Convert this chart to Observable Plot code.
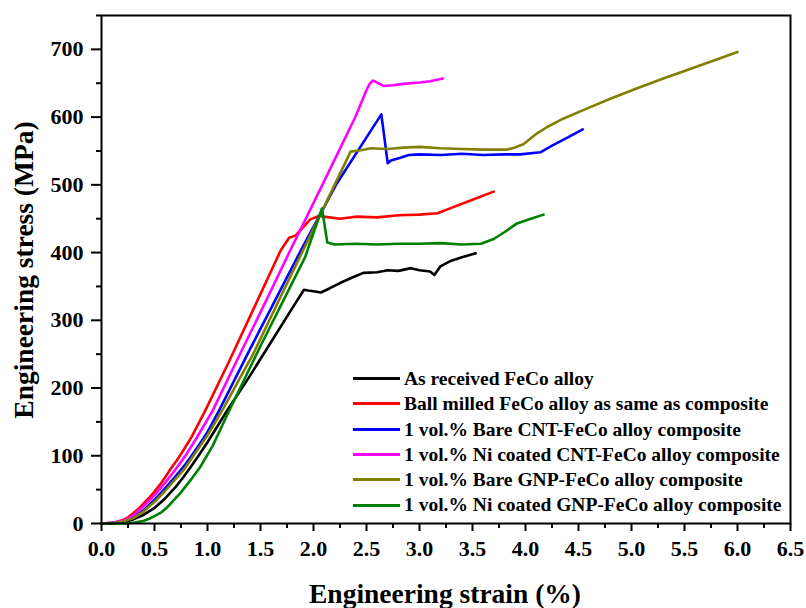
<!DOCTYPE html>
<html>
<head>
<meta charset="utf-8">
<script src="https://cdn.jsdelivr.net/npm/d3@7"></script>
<script src="https://cdn.jsdelivr.net/npm/@observablehq/plot@0.6"></script>
<style>
  html, body { margin: 0; padding: 0; background: #fff; }
  #wrap { position: relative; width: 806px; height: 608px; overflow: hidden; font-family: "Liberation Serif", "Times New Roman", serif; font-weight: bold; color: #000; }
  .title { position: absolute; white-space: nowrap; font-size: 27.5px; font-weight: bold; }
  #legend { position: absolute; left: 353px; top: 366px; font-size: 19.5px; line-height: 25.3px; }
  .row { display: flex; align-items: center; white-space: nowrap; }
  .swatch { width: 47px; height: 0; border-top: 3px solid; margin-right: 4px; }
</style>
</head>
<body>
<div id="wrap"></div>
<script>
// ---- Series labels and colours ----
const seriesNames = [
  "As received FeCo alloy",
  "Ball milled FeCo alloy as same as composite",
  "1 vol.% Bare CNT-FeCo alloy composite",
  "1 vol.% Ni coated CNT-FeCo alloy composite",
  "1 vol.% Bare GNP-FeCo alloy composite",
  "1 vol.% Ni coated GNP-FeCo alloy composite"
];
const seriesColors = ["#000000", "#ff0000", "#0000ff", "#ff00ff", "#808000", "#008000"];

// ---- Data: [strain (%), stress (MPa)] ----
const asReceived = [[0,0],[0.1,0.5],[0.2,2],[0.3,6],[0.4,13],[0.5,23],[0.6,37],[0.7,54],[0.77,68],[0.84,83],[0.92,101],[1.0,120],[1.19,168],[1.4,218],[1.6,268],[1.8,318],[1.91,345],[1.95,344],[2.0,343],[2.07,341],[2.15,347],[2.25,355],[2.35,362],[2.47,370],[2.6,371],[2.7,374],[2.8,373],[2.92,377],[3.0,374],[3.1,372],[3.14,367],[3.2,380],[3.3,388],[3.4,393],[3.53,399]];
const ballMilled = [[0,0],[0.1,1],[0.15,2.5],[0.2,5],[0.25,9],[0.3,15],[0.35,22],[0.4,30],[0.45,38],[0.5,47],[0.55,57],[0.6,68],[0.65,80],[0.71,93],[0.78,110],[0.85,128],[0.98,167],[1.2,238],[1.45,322],[1.69,403],[1.77,422],[1.83,425],[1.9,437],[1.97,449],[2.05,454],[2.15,452],[2.25,450],[2.4,453],[2.6,452],[2.8,455],[3.0,456],[3.17,458],[3.3,466],[3.5,478],[3.7,490]];
const bareCNT = [[0,0],[0.1,0.5],[0.2,3],[0.3,9],[0.4,20],[0.5,35],[0.6,52],[0.7,70],[0.78,85],[0.85,100],[0.92,116],[1.0,135],[1.11,167],[1.4,257],[1.88,403],[2.22,502],[2.64,604],[2.70,532],[2.73,536],[2.82,540],[2.9,544],[3.0,545],[3.2,544],[3.4,546],[3.6,544],[3.8,545],[3.95,545],[4.14,548],[4.25,558],[4.4,570],[4.54,582]];
const niCNT = [[0,0],[0.1,1],[0.15,2.5],[0.2,4],[0.25,8],[0.3,12],[0.35,19],[0.4,26],[0.45,34],[0.5,42],[0.6,60],[0.7,80],[0.8,102],[0.9,127],[1.05,167],[1.3,248],[1.55,328],[1.78,403],[2.1,505],[2.4,602],[2.5,640],[2.53,649],[2.56,654],[2.6,651],[2.66,646],[2.75,647],[2.85,649],[2.92,650],[3.0,651],[3.1,653],[3.22,657]];
const bareGNP = [[0,0],[0.1,0.5],[0.2,3],[0.3,8],[0.4,18],[0.5,32],[0.6,48],[0.7,66],[0.78,80],[0.85,96],[0.92,112],[1.0,130],[1.15,170],[1.43,250],[1.7,338],[2.0,435],[2.35,549],[2.45,551],[2.54,554],[2.7,553],[2.85,555],[3.0,556],[3.2,554],[3.4,553],[3.6,552],[3.83,552],[3.9,555],[3.98,560],[4.1,575],[4.2,585],[4.36,598],[4.6,614],[4.8,627],[5.06,643],[5.3,657],[5.5,668],[5.75,682],[6.0,696]];
const niGNP = [[0,0],[0.2,0],[0.3,1],[0.4,4],[0.45,7],[0.5,11],[0.56,16],[0.62,24],[0.68,34],[0.75,46],[0.84,64],[0.93,83],[1.05,115],[1.2,165],[1.5,262],[1.92,393],[2.08,465],[2.13,415],[2.2,412],[2.4,413],[2.6,412],[2.8,413],[3.0,413],[3.2,414],[3.4,412],[3.58,413],[3.7,420],[3.8,430],[3.92,443],[4.05,450],[4.17,456]];

// ---- Tick values ----
const xTicks = [0,0.5,1,1.5,2,2.5,3,3.5,4,4.5,5,5.5,6,6.5];
const xMinor = [0.25,0.75,1.25,1.75,2.25,2.75,3.25,3.75,4.25,4.75,5.25,5.75,6.25];
const yTicks = [0,100,200,300,400,500,600,700];
const yMinor = [50,150,250,350,450,550,650,750];

const allSeries = [asReceived, ballMilled, bareCNT, niCNT, bareGNP, niGNP];
const rows = allSeries.flatMap((s, i) => s.map(([x, y]) => ({series: seriesNames[i], x, y})));

const chart = Plot.plot({
  width: 806,
  height: 608,
  marginLeft: 101,
  marginRight: 16,
  marginTop: 15,
  marginBottom: 85,
  style: {fontFamily: "Liberation Serif, Times New Roman, serif", fontWeight: "bold", fontSize: "22px", color: "#000", background: "#fff"},
  x: {domain: [0, 6.5]},
  y: {domain: [0, 750]},
  color: {domain: seriesNames, range: seriesColors},
  marks: [
    Plot.line(rows, {x: "x", y: "y", z: "series", stroke: "series", strokeWidth: 2.6, strokeLinejoin: "round"}),
    Plot.frame({strokeWidth: 2}),
    Plot.axisX({ticks: xTicks, tickFormat: d => d.toFixed(1), tickSize: 8, tickPadding: 9, strokeWidth: 2, fontSize: 22, fontWeight: "bold", label: null}),
    Plot.axisX({ticks: xMinor, tickFormat: () => "", tickSize: 5, strokeWidth: 2, label: null}),
    Plot.axisY({ticks: yTicks, tickSize: 10, tickPadding: 8, strokeWidth: 2, fontSize: 22, fontWeight: "bold", label: null}),
    Plot.axisY({ticks: yMinor, tickFormat: () => "", tickSize: 5, strokeWidth: 2, label: null})
  ]
});

const wrap = document.getElementById("wrap");
wrap.appendChild(chart);

// axis titles
const xt = document.createElement("div");
xt.className = "title";
xt.textContent = "Engineering strain (%)";
xt.style.left = "445px"; xt.style.top = "594px";
xt.style.transform = "translate(-50%,-50%)";
wrap.appendChild(xt);

const yt = document.createElement("div");
yt.className = "title";
yt.textContent = "Engineering stress (MPa)";
yt.style.left = "24px"; yt.style.top = "270px";
yt.style.transform = "translate(-50%,-50%) rotate(-90deg)";
wrap.appendChild(yt);

// legend
const lg = document.createElement("div");
lg.id = "legend";
seriesNames.forEach((n, i) => {
  const r = document.createElement("div");
  r.className = "row";
  const sw = document.createElement("span");
  sw.className = "swatch";
  sw.style.borderColor = seriesColors[i];
  const t = document.createElement("span");
  t.textContent = n;
  r.appendChild(sw); r.appendChild(t);
  lg.appendChild(r);
});
wrap.appendChild(lg);
</script>
</body>
</html>
